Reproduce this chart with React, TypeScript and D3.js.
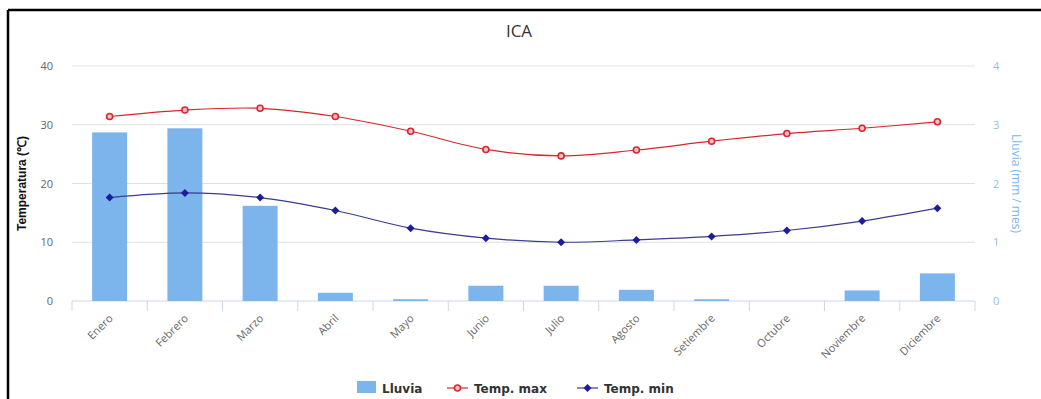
import React from "react";
import * as d3 from "d3";

const months = [
  "Enero", "Febrero", "Marzo", "Abril", "Mayo", "Junio",
  "Julio", "Agosto", "Setiembre", "Octubre", "Noviembre", "Diciembre",
];
const lluvia = [2.87, 2.94, 1.62, 0.14, 0.03, 0.26, 0.26, 0.19, 0.03, 0, 0.18, 0.47];
const tempMax = [31.4, 32.5, 32.8, 31.4, 28.9, 25.8, 24.7, 25.7, 27.2, 28.5, 29.4, 30.5];
const tempMin = [17.6, 18.4, 17.6, 15.4, 12.4, 10.7, 10.0, 10.4, 11.0, 12.0, 13.6, 15.8];
const tempTicks = [0, 10, 20, 30, 40];
const rainTicks = [0, 1, 2, 3, 4];

const W = 1041;
const H = 399;
const plot = { left: 72, right: 975, top: 66, bottom: 301 };

const BAR = "#7cb5ec";
const RED = "#d7262e";
const NAVY = "#1c1c9c";
const NAVY_LINE = "#3b3b8f";
const FONT = "'Open Sans', 'DejaVu Sans', sans-serif";

export default function App() {
  const x = d3.scaleBand<string>().domain(months).range([plot.left, plot.right]).padding(0);
  const yT = d3.scaleLinear().domain([0, 40]).range([plot.bottom, plot.top]);
  const yR = d3.scaleLinear().domain([0, 4]).range([plot.bottom, plot.top]);
  const cx = (m: string) => (x(m) as number) + x.bandwidth() / 2;
  const barW = x.bandwidth() * 0.465;

  const spline = d3
    .line<number>()
    .x((_, i) => cx(months[i]))
    .y((d) => yT(d))
    .curve(d3.curveCatmullRom.alpha(0.5));

  const boundaries = months.map((m) => x(m) as number).concat([plot.right]);
  const diamond = (px: number, py: number, r: number) =>
    `M${px},${py - r}L${px + r},${py}L${px},${py + r}L${px - r},${py}Z`;

  return (
    <svg
      width={W}
      height={H}
      style={{ position: "absolute", left: 0, top: 0, fontFamily: FONT }}
    >
      <rect x={0} y={0} width={W} height={H} fill="#fff" />

      {/* frame */}
      <line x1={8} y1={10} x2={W} y2={10} stroke="#000" strokeWidth={2.5} />
      <line x1={8} y1={10} x2={8} y2={H} stroke="#000" strokeWidth={2.5} />

      <text x={519} y={37} textAnchor="middle" fontSize={17} fill="#333">
        ICA
      </text>

      {/* grid */}
      {tempTicks.map((t) => (
        <line
          key={t}
          x1={plot.left}
          x2={plot.right}
          y1={yT(t)}
          y2={yT(t)}
          stroke={t === 0 ? "#ccd6eb" : "#e0e0e0"}
          strokeWidth={1}
        />
      ))}

      {/* left axis labels */}
      {tempTicks.map((t) => (
        <text key={t} x={53} y={yT(t) + 4} textAnchor="end" fontSize={11} fill="#666">
          {t}
        </text>
      ))}
      <text
        transform={`translate(26,${(plot.top + plot.bottom) / 2}) rotate(-90)`}
        textAnchor="middle"
        fontSize={12}
        fontWeight="bold"
        fontFamily="'Liberation Sans Narrow', 'Liberation Sans', sans-serif"
        fill="#111"
      >
        Temperatura (℃)
      </text>

      {/* right axis labels */}
      {rainTicks.map((t) => (
        <text key={t} x={993} y={yR(t) + 4} fontSize={11} fill="#8fbde8">
          {t}
        </text>
      ))}
      <text
        transform={`translate(1012,${(plot.top + plot.bottom) / 2}) rotate(90)`}
        textAnchor="middle"
        fontSize={12}
        fill="#7cb5ec"
      >
        Lluvia (mm / mes)
      </text>

      {/* x ticks */}
      {boundaries.map((b, i) => (
        <line key={i} x1={b} x2={b} y1={plot.bottom} y2={plot.bottom + 10} stroke="#ccd6eb" />
      ))}

      {/* x labels */}
      {months.map((m) => (
        <text
          key={m}
          transform={`translate(${cx(m) + 4},${plot.bottom + 18}) rotate(-45)`}
          textAnchor="end"
          fontSize={11}
          fill="#666"
        >
          {m}
        </text>
      ))}

      {/* rain bars */}
      {lluvia.map((v, i) => (
        <rect
          key={months[i]}
          x={cx(months[i]) - barW / 2}
          y={yR(v)}
          width={barW}
          height={plot.bottom - yR(v)}
          fill={BAR}
        />
      ))}

      {/* temperature lines */}
      <path d={spline(tempMax) || ""} fill="none" stroke={RED} strokeWidth={1.2} />
      <path d={spline(tempMin) || ""} fill="none" stroke={NAVY_LINE} strokeWidth={1.2} />

      {tempMax.map((v, i) => (
        <circle
          key={months[i]}
          cx={cx(months[i])}
          cy={yT(v)}
          r={3}
          fill="#f4c0c2"
          stroke={RED}
          strokeWidth={1.6}
        />
      ))}
      {tempMin.map((v, i) => (
        <path key={months[i]} d={diamond(cx(months[i]), yT(v), 4)} fill={NAVY} />
      ))}

      {/* legend */}
      <g fontFamily="'DejaVu Sans', sans-serif" fontSize={12} fontWeight="bold" fill="#333">
        <rect x={357} y={381} width={19} height={12} fill={BAR} />
        <text x={382} y={393}>Lluvia</text>

        <line x1={447} x2={468} y1={388} y2={388} stroke={RED} strokeWidth={1.2} />
        <circle cx={457.5} cy={388} r={3} fill="#f4c0c2" stroke={RED} strokeWidth={1.6} />
        <text x={474} y={393}>Temp. max</text>

        <line x1={577} x2={598} y1={388} y2={388} stroke={NAVY_LINE} strokeWidth={1.2} />
        <path d={diamond(587.5, 388, 4)} fill={NAVY} />
        <text x={604} y={393}>Temp. min</text>
      </g>
    </svg>
  );
}
